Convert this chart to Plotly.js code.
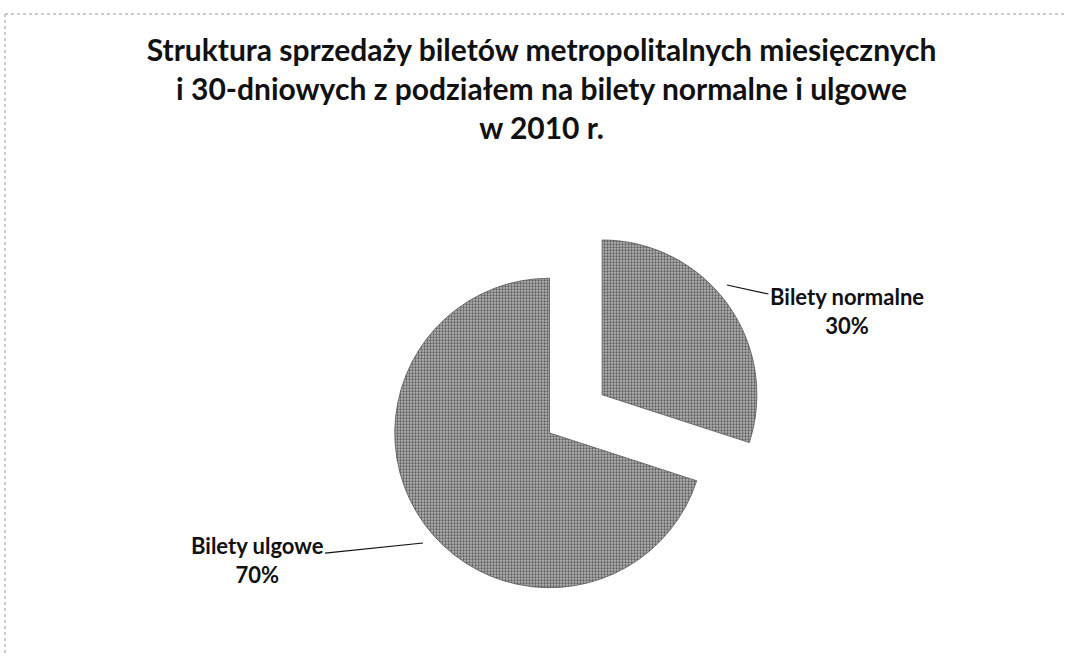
<!DOCTYPE html>
<html>
<head>
<meta charset="utf-8">
<script src="https://cdn.plot.ly/plotly-3.0.1.min.js"></script>
<style>html,body{margin:0;padding:0;background:#fff;}#chart{width:1066px;height:656px;}</style>
</head>
<body>
<div id="chart"></div>
<script>
const labels = ["Bilety normalne", "Bilety ulgowe"];
const values = [30, 70];
const pulls = [0.42, 0];
const titleText = "Struktura sprzedaży biletów metropolitalnych miesięcznych<br>i 30-dniowych z podziałem na bilety normalne i ulgowe<br>w 2010 r.";

const labelFont = {family: "Lato, 'Open Sans', sans-serif", size: 22, color: "#111"};
const labelText = labels.map((l, i) => "<b>" + l + "</b><br><b>" + values[i] + "%</b>");

const trace = {
  type: "pie",
  labels: labels,
  values: values,
  pull: pulls,
  sort: false,
  direction: "clockwise",
  rotation: 0,
  textinfo: "none",
  hoverinfo: "label+percent",
  showlegend: false,
  domain: {x: [0.309, 0.722], y: [0.005, 0.675]},
  marker: {
    colors: ["#9c9c9c", "#9c9c9c"],
    line: {color: "#555555", width: 0.8},
    pattern: {shape: ".", fgcolor: "#5e5e5e", bgcolor: "#b4b4b4", size: 3, solidity: 0.45}
  }
};

const layout = {
  width: 1066,
  height: 656,
  margin: {l: 0, r: 0, t: 0, b: 0},
  paper_bgcolor: "#ffffff",
  plot_bgcolor: "#ffffff",
  title: {
    text: "<b>" + titleText + "</b>",
    x: 0.508, xanchor: "center",
    y: 1 - 61/656, yref: "container", yanchor: "top",
    font: {family: "Lato, 'Open Sans', sans-serif", size: 30, color: "#111"}
  },
  annotations: [
    {
      xref: "paper", yref: "paper",
      x: 727/1066, y: 1 - 285/656,
      text: labelText[0], font: labelFont, align: "center",
      showarrow: true, arrowhead: 0, arrowwidth: 1.2, arrowcolor: "#111",
      axref: "pixel", ayref: "pixel", ax: 120, ay: 26
    },
    {
      xref: "paper", yref: "paper",
      x: 423/1066, y: 1 - 543/656,
      text: labelText[1], font: labelFont, align: "center",
      showarrow: true, arrowhead: 0, arrowwidth: 1.2, arrowcolor: "#111",
      axref: "pixel", ayref: "pixel", ax: -166, ay: 17
    }
  ],
  shapes: [
    {type: "line", xref: "paper", yref: "paper", x0: 5/1066, x1: 1, y0: 1 - 14/656, y1: 1 - 14/656,
     line: {color: "#9a9a9a", width: 1, dash: "dot"}},
    {type: "line", xref: "paper", yref: "paper", x0: 5/1066, x1: 5/1066, y0: 1 - 14/656, y1: 0,
     line: {color: "#9a9a9a", width: 1, dash: "dot"}}
  ]
};

Plotly.newPlot("chart", [trace], layout, {displayModeBar: false, staticPlot: true});
</script>
</body>
</html>
